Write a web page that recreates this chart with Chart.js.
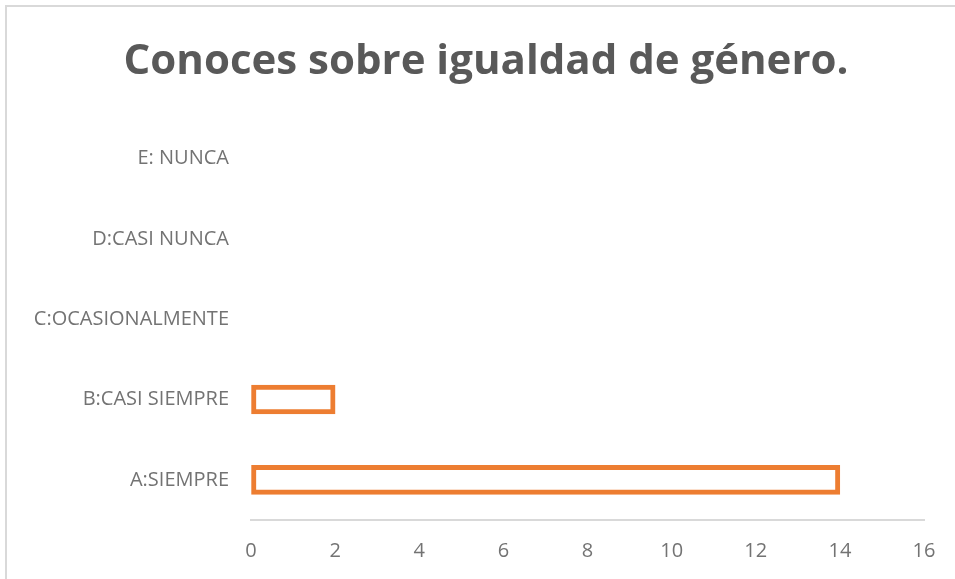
<!DOCTYPE html>
<html lang="es">
<head>
<meta charset="UTF-8">
<title>Conoces sobre igualdad de género</title>
<script src="https://cdn.jsdelivr.net/npm/chart.js@4.4.0/dist/chart.umd.min.js"></script>
<style>
  html, body { margin: 0; padding: 0; background: #fff; }
  #frame { position: absolute; left: 5px; top: 5px; width: 960px; height: 590px;
           border-left: 2px solid #d9d9d9; border-top: 2px solid #d9d9d9; }
  #wrap { position: absolute; left: 0; top: 0; width: 955px; height: 579px; }
</style>
</head>
<body>
<div id="frame"></div>
<div id="wrap"><canvas id="chart" width="955" height="579"></canvas></div>
<script>
// answers, bottom to top
const categorias = ['A:SIEMPRE', 'B:CASI SIEMPRE', 'C:OCASIONALMENTE', 'D:CASI NUNCA', 'E: NUNCA'];
const respuestas = [14, 2, 0, 0, 0];
const ejeMin = 0, ejeMax = 16, ejePaso = 2;

const gris = '#595959';
const grisEje = '#737373';
const naranja = '#ED7D31';

// long category names spill past the left padding, so widen the label clip area
const sinRecorte = {
  id: 'sinRecorte',
  afterLayout(chart) { chart.scales.y.left = 0; }
};

const ctx = document.getElementById('chart').getContext('2d');
new Chart(ctx, {
  type: 'bar',
  data: {
    labels: categorias,
    datasets: [{
      data: respuestas,
      backgroundColor: '#ffffff',
      borderColor: naranja,
      borderWidth: 5,
      borderSkipped: false,
      barThickness: 29
    }]
  },
  options: {
    indexAxis: 'y',
    responsive: false,
    animation: false,
    layout: { padding: { left: 48, right: 31, top: 0, bottom: 14 } },
    plugins: {
      legend: { display: false },
      tooltip: { enabled: false },
      title: {
        display: true,
        text: 'Conoces sobre igualdad de género.',
        color: gris,
        font: { family: 'Open Sans', size: 42, weight: 'bold' },
        padding: { top: 37, bottom: 31 }
      }
    },
    scales: {
      x: {
        min: ejeMin, max: ejeMax,
        ticks: { stepSize: ejePaso, color: grisEje, padding: 19,
                 font: { family: 'Open Sans', size: 20 } },
        grid: { color: 'rgba(0,0,0,0)', drawTicks: false },
        border: { display: true, color: '#d9d9d9', width: 2 },
        afterFit: (s) => { s.height = 45; }
      },
      y: {
        reverse: true,
        ticks: { color: grisEje, padding: 22,
                 font: { family: 'Open Sans', size: 20 } },
        grid: { display: false, drawTicks: false },
        border: { display: false },
        afterFit: (s) => { s.width = 203; }
      }
    }
  },
  plugins: [sinRecorte]
});
</script>
</body>
</html>
